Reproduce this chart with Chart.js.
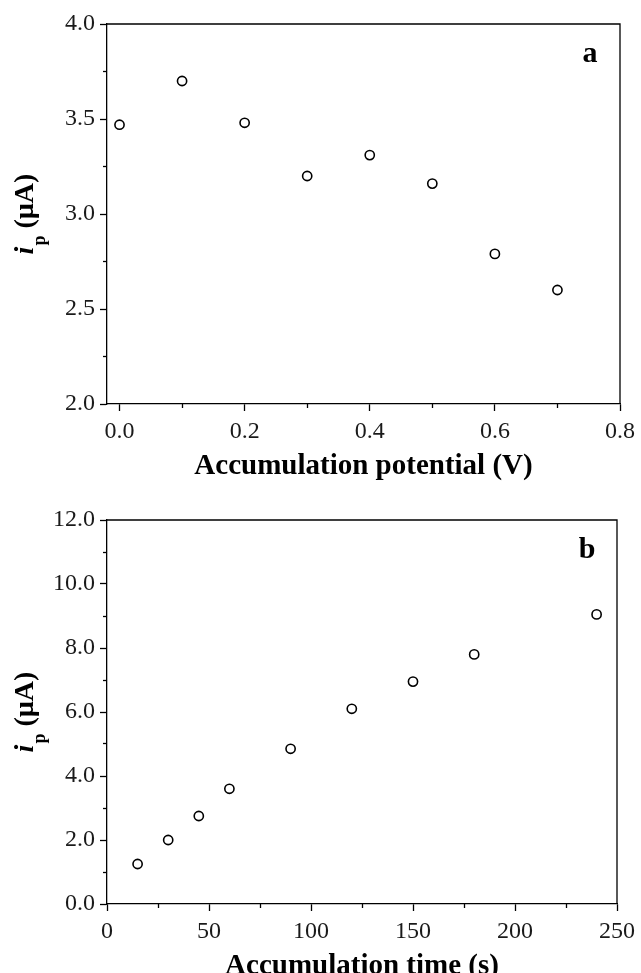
<!DOCTYPE html>
<html>
<head>
<meta charset="utf-8">
<script src="https://cdn.jsdelivr.net/npm/chart.js@4.4.0/dist/chart.umd.min.js"></script>
<style>
    html, body { margin: 0; padding: 0; background: #fff; }
    body { width: 641px; height: 973px; overflow: hidden; position: relative; }
    .panel { position: absolute; left: 0; width: 641px; }
    #wrapA { top: 0; height: 490px; }
    #wrapB { top: 490px; height: 500px; }
</style>
</head>
<body>
<div class="panel" id="wrapA"><canvas id="chartA" width="641" height="490"></canvas></div>
<div class="panel" id="wrapB"><canvas id="chartB" width="641" height="500"></canvas></div>
<script>
// panel a : peak current vs accumulation potential
const potentialV = [0.0, 0.1, 0.2, 0.3, 0.4, 0.5, 0.6, 0.7];
const currentA   = [3.47, 3.70, 3.48, 3.20, 3.31, 3.16, 2.79, 2.60];
const potentialTicks      = [0.0, 0.2, 0.4, 0.6, 0.8];
const potentialMinorTicks = [0.1, 0.3, 0.5, 0.7];
const currentATicks       = [2.0, 2.5, 3.0, 3.5, 4.0];
const currentAMinorTicks  = [2.25, 2.75, 3.25, 3.75];

// panel b : peak current vs accumulation time
const timeS    = [15, 30, 45, 60, 90, 120, 150, 180, 240];
const currentB = [1.25, 2.0, 2.75, 3.6, 4.85, 6.1, 6.95, 7.8, 9.05];
const timeTicks          = [0, 50, 100, 150, 200, 250];
const timeMinorTicks     = [25, 75, 125, 175, 225];
const currentBTicks      = [0, 2, 4, 6, 8, 10, 12];
const currentBMinorTicks = [1, 3, 5, 7, 9, 11];

const SERIF = '"Liberation Serif", "Times New Roman", serif';
const AXIS_W = 1.3;

// cadre haut + droite (les axes gauche/bas sont tracés par Chart.js)
const framePlugin = {
    id: 'frame',
    afterDraw(chart) {
        const { ctx, chartArea: a } = chart;
        ctx.save();
        ctx.strokeStyle = '#000';
        ctx.lineWidth = AXIS_W;
        ctx.beginPath();
        ctx.moveTo(a.left, a.top);
        ctx.lineTo(a.right, a.top);
        ctx.lineTo(a.right, a.bottom);
        ctx.stroke();
        ctx.restore();
    }
};

// titre Y : i (italique) + p en indice + (µA)
const yTitlePlugin = {
    id: 'yTitle',
    afterDraw(chart) {
        const { ctx, chartArea: a } = chart;
        const cy = (a.top + a.bottom) / 2;
        const fIt = 'italic bold 28px ' + SERIF;
        const fSub = 'bold 18px ' + SERIF;
        const fMain = 'bold 28px ' + SERIF;
        ctx.save();
        ctx.translate(24, cy);
        ctx.rotate(-Math.PI / 2);
        ctx.fillStyle = '#000';
        ctx.textBaseline = 'alphabetic';
        ctx.textAlign = 'left';
        ctx.font = fIt;  const wI = ctx.measureText('i').width + 1;
        ctx.font = fSub; const wP = ctx.measureText('p').width;
        ctx.font = fMain; const wR = ctx.measureText(' (µA)').width;
        let x = -(wI + wP + wR) / 2;
        const base = 9;
        ctx.font = fIt;  ctx.fillText('i', x, base); x += wI;
        ctx.font = fSub; ctx.fillText('p', x, base + 12); x += wP;
        ctx.font = fMain; ctx.fillText(' (µA)', x, base);
        ctx.restore();
    }
};

// lettre du panneau (a / b)
const panelLetterPlugin = {
    id: 'panelLetter',
    afterDraw(chart, args, opts) {
        const { ctx, chartArea: a } = chart;
        ctx.save();
        ctx.fillStyle = '#000';
        ctx.font = 'bold 30px ' + SERIF;
        ctx.textAlign = 'center';
        ctx.textBaseline = 'middle';
        ctx.fillText(opts.text, a.right - 30, a.top + 30);
        ctx.restore();
    }
};

function setTicks(values) {
    return (scale) => { scale.ticks = values.map(v => ({ value: v })); };
}

function majorAxis(horizontal, min, max, ticks, digits, title) {
    return {
        type: 'linear',
        position: horizontal ? 'bottom' : 'left',
        weight: 1,
        min: min,
        max: max,
        afterBuildTicks: setTicks(ticks),
        afterFit: (s) => { if (horizontal) s.height = 86; else s.width = 107; },
        border: { display: true, color: '#000', width: AXIS_W },
        grid: { drawOnChartArea: false, drawTicks: true, tickLength: 7, tickWidth: AXIS_W, tickColor: '#000' },
        ticks: {
            color: '#1a1a1a',
            padding: horizontal ? 6 : 5,
            maxRotation: 0,
            font: { family: SERIF, size: 24 },
            callback: (v) => Number(v).toFixed(digits)
        },
        title: title ? {
            display: true,
            text: title,
            color: '#000',
            font: { family: SERIF, size: 29, weight: 'bold' },
            padding: { top: 0, bottom: 6 }
        } : { display: false }
    };
}

function minorAxis(horizontal, min, max, ticks) {
    return {
        type: 'linear',
        position: horizontal ? 'bottom' : 'left',
        weight: 0,
        min: min,
        max: max,
        afterBuildTicks: setTicks(ticks),
        afterFit: (s) => { if (horizontal) s.height = 0; else s.width = 0; },
        border: { display: false },
        grid: { drawOnChartArea: false, drawTicks: true, tickLength: 4, tickWidth: AXIS_W, tickColor: '#000' },
        ticks: { display: false }
    };
}

function makeChart(canvasId, xs, ys, scales, letter, padTop) {
    const points = xs.map((x, i) => ({ x: x, y: ys[i] }));
    return new Chart(document.getElementById(canvasId), {
        type: 'scatter',
        data: {
            datasets: [{
                data: points,
                showLine: false,
                pointStyle: 'circle',
                pointRadius: 4.6,
                pointBorderWidth: 1.6,
                pointBorderColor: '#000',
                pointBackgroundColor: 'rgba(255,255,255,0)'
            }]
        },
        options: {
            responsive: false,
            animation: false,
            layout: { padding: { top: padTop, right: 19, left: 0, bottom: 0 } },
            plugins: {
                legend: { display: false },
                tooltip: { enabled: false },
                panelLetter: { text: letter }
            },
            scales: scales
        },
        plugins: [framePlugin, yTitlePlugin, panelLetterPlugin]
    });
}

makeChart('chartA', potentialV, currentA, {
    x:  majorAxis(true, -0.02, 0.8, potentialTicks, 1, 'Accumulation potential (V)'),
    xm: minorAxis(true, -0.02, 0.8, potentialMinorTicks),
    y:  majorAxis(false, 2.0, 4.0, currentATicks, 1, null),
    ym: minorAxis(false, 2.0, 4.0, currentAMinorTicks)
}, 'a', 24);

makeChart('chartB', timeS, currentB, {
    x:  majorAxis(true, 0, 250, timeTicks, 0, 'Accumulation time (s)'),
    xm: minorAxis(true, 0, 250, timeMinorTicks),
    y:  majorAxis(false, 0, 12, currentBTicks, 1, null),
    ym: minorAxis(false, 0, 12, currentBMinorTicks)
}, 'b', 30);
</script>
</body>
</html>
